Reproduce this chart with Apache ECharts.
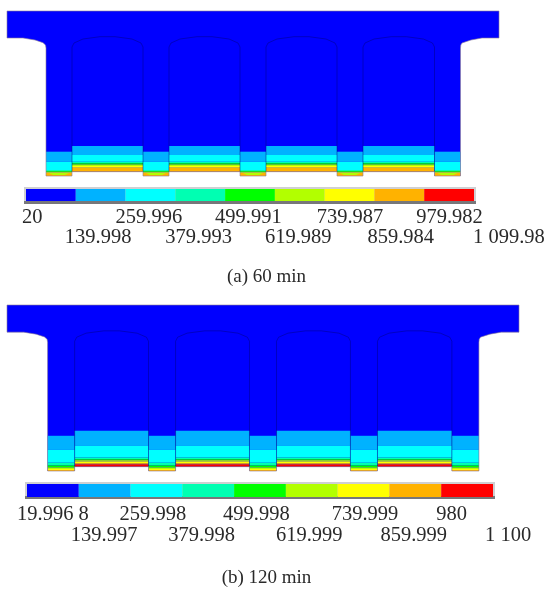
<!DOCTYPE html>
<html>
<head>
<meta charset="utf-8">
<title>Section temperature</title>
<script src="https://cdn.jsdelivr.net/npm/echarts@6/dist/echarts.min.js"></script>
<style>
  html, body { margin: 0; padding: 0; background: #fff; }
  #chart { width: 548px; height: 589px; filter: blur(0.5px); }
</style>
</head>
<body>
<div id="chart"></div>
<script>
// colour scale, low to high
const bandColors = ['#0000FF', '#00B2FF', '#00FFFF', '#00FFB2', '#00FF00', '#B2FF00', '#FFFF00', '#FFB200', '#FF0000'];

// colour bar ticks
const tickLabelsA = ['20', '139.998', '259.996', '379.993', '499.991', '619.989', '739.987', '859.984', '979.982', '1 099.98'];
const tickLabelsB = ['19.996 8', '139.997', '259.998', '379.998', '499.998', '619.999', '739.999', '859.999', '980', '1 100'];
const captionA = '(a) 60 min';
const captionB = '(b) 120 min';

// section outline, shared by both times (x across the deck, depth down from the top)
const outlineX = [0, 492, 492, 475, 464, 455, 453.8, 453.5, 453.5, 427.5, 427.5, 356, 356, 330, 330, 259, 259, 233, 233, 162, 162, 136, 136, 65, 65, 39, 39, 38.5, 36, 28, 16, 0];
const outlineDepth = [0, 0, 27, 27, 29, 32, 34, 37, 165, 165, 160.7, 160.7, 165, 165, 160.7, 160.7, 165, 165, 160.7, 160.7, 165, 165, 160.7, 160.7, 165, 165, 37, 34, 31.7, 29, 27, 27];
const webLeft = [39, 136, 233, 330, 427.5];
const webRight = [65, 162, 259, 356, 453.5];
const chamberBottom = 160.7;

// chamber roof profile, x measured from the left wall
const roofX = [0, 2, 11, 28, 43, 60, 69, 71];
const roofDepth = [36, 32, 28, 25.7, 25.7, 28, 32, 36];

// depth where each colour band ends, in bandColors order
const webBandsA = [140.7, 150.7, 159, 160, 160.8, 161.5, 162, 165];
const chamberBandsA = [135, 144, 150.7, 152.3, 153.5, 155, 156.7, 160.7];
const webBandsB = [130, 144, 156.7, 159.5, 161.5, 163, 164, 165];
const chamberBandsB = [125, 139.7, 151.7, 153.3, 154.3, 155.5, 157.3, 158.5, 160.7];

// warmer patch left in the middle of the web foot at 60 min: top and bottom depth
const webFootA = [162, 164];

// left-aligned label start relative to its tick, px
const labelShiftA = [-4, -11, -10, -10, -10, -10, -8, -7, -8, -1];
const labelShiftB = [-10, -8, -11, -14, -11, -10, -6, -9, -5, -8];

const FONT = '"Liberation Serif", "Times New Roman", serif';
const chart = echarts.init(document.getElementById('chart'), null, { renderer: 'canvas' });

function tickValue(label) {
  return parseFloat(label.replace(/ /g, ''));
}

function polygon(api, xs, ds, style) {
  const points = xs.map((x, i) => api.coord([x, ds[i]]));
  return { type: 'polygon', shape: { points: points }, style: style };
}

function bandRects(api, lefts, rights, bands) {
  const out = [];
  lefts.forEach((left, w) => {
    let top = 0;
    bands.forEach((end, c) => {
      if (c > 0) {
        out.push(polygon(api, [left, rights[w], rights[w], left], [top, top, end, end], { fill: bandColors[c] }));
      }
      top = end;
    });
  });
  return out;
}

function renderSection(webBands, chamberBands, foot) {
  return function (params, api) {
    const children = [];
    // whole section in the lowest band
    children.push(polygon(api, outlineX, outlineDepth, { fill: bandColors[0] }));

    const chamberLeft = webRight.slice(0, 4);
    const chamberRight = webLeft.slice(1);
    children.push(...bandRects(api, chamberLeft, chamberRight, chamberBands));
    children.push(...bandRects(api, webLeft, webRight, webBands));

    if (foot) {
      webLeft.forEach((left, i) => {
        const right = webRight[i];
        children.push(polygon(api,
          [left + 3, right - 3, right - 7, left + 7],
          [foot[0], foot[0], foot[1], foot[1]],
          { fill: bandColors[5] }));
      });
    }

    // chamber walls and roof
    chamberLeft.forEach((left, i) => {
      const xs = [left, ...roofX.map(x => left + x * (chamberRight[i] - left) / 71), chamberRight[i]];
      const ds = [chamberBottom, ...roofDepth, chamberBottom];
      const points = xs.map((x, k) => api.coord([x, ds[k]]));
      children.push({
        type: 'polyline',
        shape: { points: points },
        style: { fill: null, stroke: 'rgba(0,0,120,0.45)', lineWidth: 1 }
      });
    });

    children.push(polygon(api, outlineX, outlineDepth, {
      fill: null, stroke: 'rgba(140,125,150,0.6)', lineWidth: 1
    }));
    return { type: 'group', children: children };
  };
}

function renderBin(params, api) {
  const a = api.coord([api.value(0), 0]);
  const b = api.coord([api.value(1), 1]);
  return {
    type: 'rect',
    shape: { x: a[0], y: b[1], width: b[0] - a[0], height: a[1] - b[1] },
    style: { fill: bandColors[params.dataIndex] }
  };
}

function renderTick(labels, shifts, rowTop, rowLow) {
  return function (params, api) {
    const i = params.dataIndex;
    const p = api.coord([api.value(0), 0]);
    return {
      type: 'text',
      style: {
        text: labels[i],
        x: p[0] + shifts[i],
        y: p[1] + (i % 2 ? rowLow : rowTop),
        align: 'left',
        verticalAlign: 'middle',
        fontFamily: FONT,
        fontSize: 20.5,
        fill: '#2a2a2a'
      }
    };
  };
}

function binData(labels) {
  return bandColors.map((c, i) => [tickValue(labels[i]), tickValue(labels[i + 1])]);
}

const hiddenAxis = { show: false, type: 'value' };

function frameRects(x, y, w, h) {
  return [
    { type: 'rect', z: 0, shape: { x: x, y: y, width: w, height: h }, style: { fill: '#cfcfd2' } },
    { type: 'rect', z: 0, shape: { x: x, y: y + h - 3, width: w, height: 3 }, style: { fill: '#77777a' } }
  ];
}

function caption(text, top) {
  return {
    text: text,
    left: 266.5,
    top: top,
    padding: 0,
    textAlign: 'center',
    textStyle: { fontFamily: FONT, fontSize: 19, fontWeight: 'normal', color: '#2a2a2a' }
  };
}

const option = {
  backgroundColor: '#fff',
  animation: false,
  title: [caption(captionA, 267.5), caption(captionB, 569)],
  grid: [
    { left: 7, top: 11, width: 492, height: 165 },
    { left: 7, top: 305, width: 512, height: 166 },
    { left: 26, top: 189, width: 448, height: 12 },
    { left: 27, top: 484, width: 466, height: 13 }
  ],
  xAxis: [
    { ...hiddenAxis, gridIndex: 0, min: 0, max: 492 },
    { ...hiddenAxis, gridIndex: 1, min: 0, max: 492 },
    { ...hiddenAxis, gridIndex: 2, min: tickValue(tickLabelsA[0]), max: tickValue(tickLabelsA[9]) },
    { ...hiddenAxis, gridIndex: 3, min: tickValue(tickLabelsB[0]), max: tickValue(tickLabelsB[9]) }
  ],
  yAxis: [
    { ...hiddenAxis, gridIndex: 0, min: 0, max: 165, inverse: true },
    { ...hiddenAxis, gridIndex: 1, min: 0, max: 165, inverse: true },
    { ...hiddenAxis, gridIndex: 2, min: 0, max: 1 },
    { ...hiddenAxis, gridIndex: 3, min: 0, max: 1 }
  ],
  graphic: [...frameRects(24, 187, 452, 17), ...frameRects(25, 482, 470, 17)],
  series: [
    { type: 'custom', xAxisIndex: 0, yAxisIndex: 0, silent: true, clip: false, data: [[0, 0]], renderItem: renderSection(webBandsA, chamberBandsA, webFootA) },
    { type: 'custom', xAxisIndex: 1, yAxisIndex: 1, silent: true, clip: false, data: [[0, 0]], renderItem: renderSection(webBandsB, chamberBandsB) },
    { type: 'custom', xAxisIndex: 2, yAxisIndex: 2, silent: true, clip: false, data: binData(tickLabelsA), renderItem: renderBin },
    { type: 'custom', xAxisIndex: 3, yAxisIndex: 3, silent: true, clip: false, data: binData(tickLabelsB), renderItem: renderBin },
    { type: 'custom', xAxisIndex: 2, yAxisIndex: 2, silent: true, clip: false, data: tickLabelsA.map(l => [tickValue(l)]), renderItem: renderTick(tickLabelsA, labelShiftA, 16.5, 36.5) },
    { type: 'custom', xAxisIndex: 3, yAxisIndex: 3, silent: true, clip: false, data: tickLabelsB.map(l => [tickValue(l)]), renderItem: renderTick(tickLabelsB, labelShiftB, 17.5, 38.5) }
  ]
};

chart.setOption(option);
</script>
</body>
</html>
